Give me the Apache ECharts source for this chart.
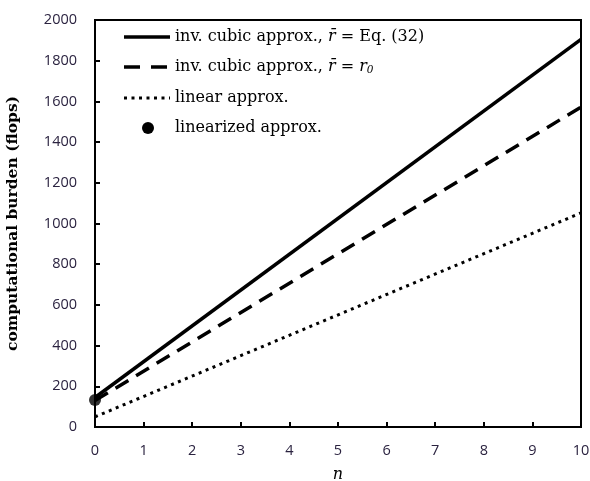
<!DOCTYPE html>
<html><head><meta charset="utf-8">
<script src="https://cdn.jsdelivr.net/npm/echarts@6/dist/echarts.min.js"></script>
<style>html,body{margin:0;padding:0;background:#fff}#c{width:590px;height:481px}</style>
</head><body><div id="c"></div>
<script>
const nValues = [0, 10];
const cubicEq32 = [145, 1905];
const cubicR0 = [130, 1572];
const linearApprox = [50, 1052];
const linearizedPoint = [[0, 133]];
const xTicks = [0,1,2,3,4,5,6,7,8,9,10];
const yTicks = [0,200,400,600,800,1000,1200,1400,1600,1800,2000];

const chart = echarts.init(document.getElementById('c'));
const pair = (xs, ys) => xs.map((x, i) => [x, ys[i]]);
const serif = 'DejaVu Serif, Liberation Serif, serif';
const tickFont = {fontFamily: 'Open Sans, Liberation Sans, sans-serif', fontSize: 14.5, color: '#2b2340'};
const rich = {
  a: {fontFamily: serif, fontSize: 16, color: '#000'},
  i: {fontFamily: serif, fontSize: 16, fontStyle: 'italic', color: '#000'},
  s: {fontFamily: serif, fontSize: 10.5, fontStyle: 'italic', color: '#000', verticalAlign: 'bottom', padding: [6, 0, 0, 0]}
};
const legendRows = [
  {y: 37, kind: 'solid', text: '{a|inv. cubic approx., }{i|r\u0304}{a| = Eq. (32)}'},
  {y: 67, kind: 'dash', text: '{a|inv. cubic approx., }{i|r\u0304}{a| = }{i|r}{s|0}'},
  {y: 98, kind: 'dot', text: '{a|linear approx.}'},
  {y: 128, kind: 'marker', text: '{a|linearized approx.}'}
];
const graphics = [];
legendRows.forEach(r => {
  if (r.kind === 'marker') {
    graphics.push({type: 'circle', shape: {cx: 148, cy: r.y, r: 6}, style: {fill: '#000'}});
  } else {
    const dash = r.kind === 'solid' ? null : (r.kind === 'dash' ? [16, 11] : [3, 4.5]);
    graphics.push({type: 'line', shape: {x1: 124, y1: r.y, x2: 170, y2: r.y},
      style: {stroke: '#000', lineWidth: r.kind === 'dot' ? 3 : 3.5, lineDash: dash}});
  }
  graphics.push({type: 'text', x: 175, y: r.y, style: {text: r.text, rich: rich, fill: '#000', verticalAlign: 'middle'}});
});

chart.setOption({
  animation: false,
  grid: {left: 95, right: 9, top: 20, bottom: 54, show: true, borderColor: '#000', borderWidth: 2,
         containLabel: false, outerBoundsMode: 'none'},
  graphic: graphics,
  xAxis: {
    type: 'value', min: 0, max: 10, interval: 1,
    name: 'n', nameLocation: 'middle', nameGap: 40,
    nameTextStyle: {fontFamily: serif, fontStyle: 'italic', fontSize: 16, color: '#000'},
    axisLine: {lineStyle: {color: '#000', width: 2}},
    axisTick: {inside: true, length: 5, lineStyle: {color: '#000', width: 2}},
    axisLabel: Object.assign({margin: 16, formatter: v => xTicks.includes(v) ? String(v) : ''}, tickFont),
    splitLine: {show: false}
  },
  yAxis: {
    type: 'value', min: 0, max: 2000, interval: 200,
    name: 'computational burden (flops)', nameLocation: 'middle', nameGap: 74,
    nameTextStyle: {fontFamily: serif, fontWeight: 'bold', fontSize: 15.5, color: '#000'},
    axisLine: {lineStyle: {color: '#000', width: 2}},
    axisTick: {inside: true, length: 5, lineStyle: {color: '#000', width: 2}},
    axisLabel: Object.assign({margin: 18, formatter: v => yTicks.includes(v) ? String(v) : ''}, tickFont),
    splitLine: {show: false}
  },
  series: [
    {type: 'line', data: pair(nValues, cubicEq32), showSymbol: false, symbol: 'none',
     lineStyle: {color: '#000', width: 3.5, type: 'solid'}},
    {type: 'line', data: pair(nValues, cubicR0), showSymbol: false, symbol: 'none',
     lineStyle: {color: '#000', width: 3.5, type: [15, 9]}},
    {type: 'line', data: pair(nValues, linearApprox), showSymbol: false, symbol: 'none',
     lineStyle: {color: '#000', width: 3, type: [3, 4.5]}},
    {type: 'scatter', data: linearizedPoint, symbol: 'circle', symbolSize: 12,
     itemStyle: {color: '#000'}, z: 5}
  ]
});
</script></body></html>
